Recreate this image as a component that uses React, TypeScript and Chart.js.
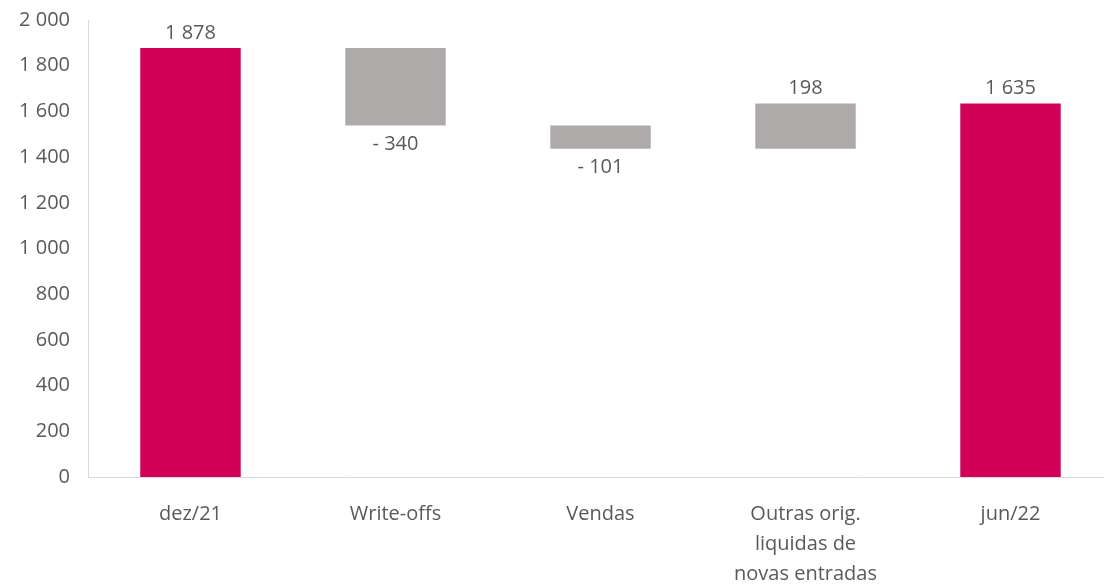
import React, { useEffect, useRef } from "react";
import { Chart, registerables } from "chart.js";

Chart.register(...registerables);

const categories: (string | string[])[] = [
  "dez/21",
  "Write-offs",
  "Vendas",
  ["Outras orig.", "liquidas de", "novas entradas"],
  "jun/22",
];
const values = [1878, -340, -101, 198, 1635];
const isTotal = [true, false, false, false, true];
const yTicks = [0, 200, 400, 600, 800, 1000, 1200, 1400, 1600, 1800, 2000];

const TOTAL_COLOR = "#D10056";
const STEP_COLOR = "#AEAAAA";
const TEXT_COLOR = "#595959";
const FONT = "'Open Sans', Lato, sans-serif";

const fmt = (n: number) =>
  String(Math.abs(n)).replace(/\B(?=(\d{3})+(?!\d))/g, " ");

export default function App() {
  const ref = useRef<HTMLCanvasElement>(null);

  useEffect(() => {
    if (!ref.current) return;
    let running = 0;
    const ranges = values.map((v, i) => {
      if (isTotal[i]) {
        running = v;
        return [0, v];
      }
      const start = running;
      running = running + v;
      return [start, running];
    });

    const labelPlugin = {
      id: "wfLabels",
      afterDatasetsDraw(chart: any) {
        const ctx = chart.ctx;
        const meta = chart.getDatasetMeta(0);
        ctx.save();
        ctx.font = `20px ${FONT}`;
        ctx.fillStyle = TEXT_COLOR;
        ctx.textAlign = "center";
        ctx.textBaseline = "middle";
        meta.data.forEach((el: any, i: number) => {
          const v = values[i];
          const top = Math.min(el.y, el.base);
          const bottom = Math.max(el.y, el.base);
          if (v >= 0) {
            ctx.fillText(fmt(v), el.x, top - 15);
          } else {
            ctx.fillText("- " + fmt(v), el.x, bottom + 19);
          }
        });
        ctx.restore();
      },
    };

    const chart = new Chart(ref.current, {
      type: "bar",
      data: {
        labels: categories,
        datasets: [
          {
            data: ranges as any,
            backgroundColor: isTotal.map((t) => (t ? TOTAL_COLOR : STEP_COLOR)),
            categoryPercentage: 1,
            barPercentage: 0.49,
            borderSkipped: false,
          },
        ],
      },
      options: {
        animation: false,
        responsive: false,
        maintainAspectRatio: false,
        layout: { padding: { top: 20, left: 0, right: 0, bottom: 0 } },
        plugins: {
          legend: { display: false },
          tooltip: { enabled: false },
        },
        scales: {
          x: {
            grid: { display: false, drawTicks: false },
            border: { display: true, color: "#D9D9D9", width: 1 },
            afterFit: (axis: any) => {
              axis.height = 109;
            },
            ticks: {
              color: TEXT_COLOR,
              font: { family: FONT, size: 20, lineHeight: "30px" },
              maxRotation: 0,
              autoSkip: false,
              padding: 22,
            },
          },
          y: {
            min: 0,
            max: 2000,
            grid: { display: false, drawTicks: false },
            border: { display: true, color: "#D9D9D9", width: 1 },
            afterFit: (axis: any) => {
              axis.width = 88;
              axis.paddingTop = 0;
              axis.paddingBottom = 0;
            },
            afterBuildTicks: (axis: any) => {
              axis.ticks = yTicks.map((v) => ({ value: v }));
            },
            ticks: {
              color: TEXT_COLOR,
              font: { family: FONT, size: 20 },
              padding: 18,
              callback: (v: any) => fmt(Number(v)),
            },
          },
        },
      },
      plugins: [labelPlugin],
    });
    return () => chart.destroy();
  }, []);

  return (
    <div style={{ position: "absolute", left: 0, top: 0, width: 1120, height: 586, overflow: "hidden" }}>
      <canvas ref={ref} width={1113} height={586} style={{ display: "block" }} />
    </div>
  );
}
